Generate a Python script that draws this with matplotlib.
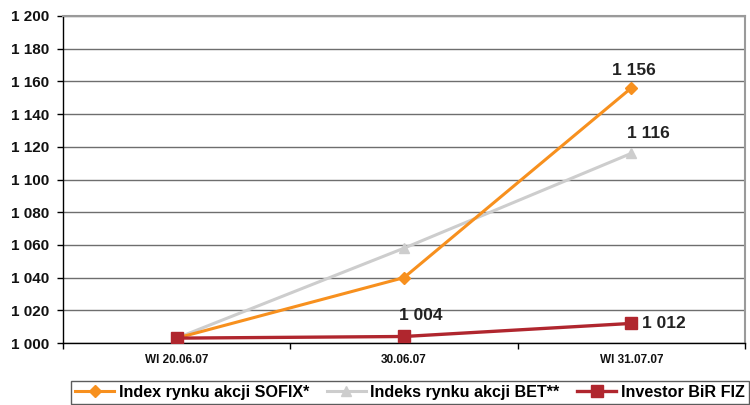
import matplotlib
matplotlib.use("Agg")
import matplotlib.pyplot as plt
from matplotlib.ticker import FixedLocator

categories = ["WI 20.06.07", "30.06.07", "WI 31.07.07"]
sofix = [1003, 1040, 1156]
bet = [1003, 1058, 1116]
investor = [1003, 1004, 1012]
series_names = ["Index rynku akcji SOFIX*", "Indeks rynku akcji BET**", "Investor BiR FIZ"]
yticks = list(range(1000, 1201, 20))

plt.rcParams['font.family'] = ['Liberation Sans', 'DejaVu Sans']

fig = plt.figure(figsize=(7.5, 4.05), dpi=100)
ax = fig.add_axes([0.084, 0.153, 0.9093, 0.8075])

x = list(range(len(categories)))
ax.plot(x, sofix, color='#F7901E', lw=2.2, marker='D', ms=6, label=series_names[0], zorder=3)
ax.plot(x, bet, color='#CDCDCD', lw=2.2, marker='^', ms=7, label=series_names[1], zorder=2)
ax.plot(x, investor, color='#B0262E', lw=2.4, marker='s', ms=8, label=series_names[2], zorder=4)

ax.set_xlim(-0.5, 2.5)
ax.set_ylim(1000, 1200)
ax.set_yticks(yticks)
ax.set_yticklabels([f"{v//1000} {v%1000:03d}" for v in yticks], fontsize=11, fontweight='bold',
                   color='#111111')
ax.set_xticks(x)
ax.set_xticklabels(categories, fontsize=8.5, fontweight='bold', color='#111111')
ax.tick_params(axis='x', which='major', length=0, pad=8)
ax.xaxis.set_minor_locator(FixedLocator([-0.5, 0.5, 1.5, 2.5]))
ax.tick_params(axis='x', which='minor', length=4, width=1, color='black', direction='out')
ax.tick_params(axis='y', length=4, width=1, color='black', direction='out', pad=6)

ax.grid(axis='y', color='#6E6E6E', lw=1.0, zorder=0)
ax.set_axisbelow(True)
for s in ['left', 'bottom']:
    ax.spines[s].set_color('black')
    ax.spines[s].set_linewidth(1.0)
for s in ['top', 'right']:
    ax.spines[s].set_color('#9A9A9A')
    ax.spines[s].set_linewidth(1.5)

def fmt(v):
    return f"{v//1000} {v%1000:03d}"

lab = dict(fontsize=12.5, fontweight='bold', color='#222222')
ax.annotate(fmt(sofix[2]), (2, sofix[2]), xytext=(2, 7), textcoords='offset points',
            ha='center', va='bottom', **lab)
ax.annotate(fmt(bet[2]), (2, bet[2]), xytext=(12, 9), textcoords='offset points',
            ha='center', va='bottom', **lab)
ax.annotate(fmt(investor[1]), (1, investor[1]), xytext=(12, 10), textcoords='offset points',
            ha='center', va='bottom', **lab)
ax.annotate(fmt(investor[2]), (2, investor[2]), xytext=(8, 0), textcoords='offset points',
            ha='left', va='center', **lab)

leg = fig.legend(loc='upper left', bbox_to_anchor=(0.095, 0.06), ncol=3,
                 frameon=True, fancybox=False, edgecolor='#333333',
                 prop={'size': 11.6, 'weight': 'bold'}, handlelength=2.4,
                 handletextpad=0.3, columnspacing=1.1, borderpad=0.25, borderaxespad=0)
leg.get_frame().set_linewidth(1.0)

fig.savefig("out.png", dpi=100)
